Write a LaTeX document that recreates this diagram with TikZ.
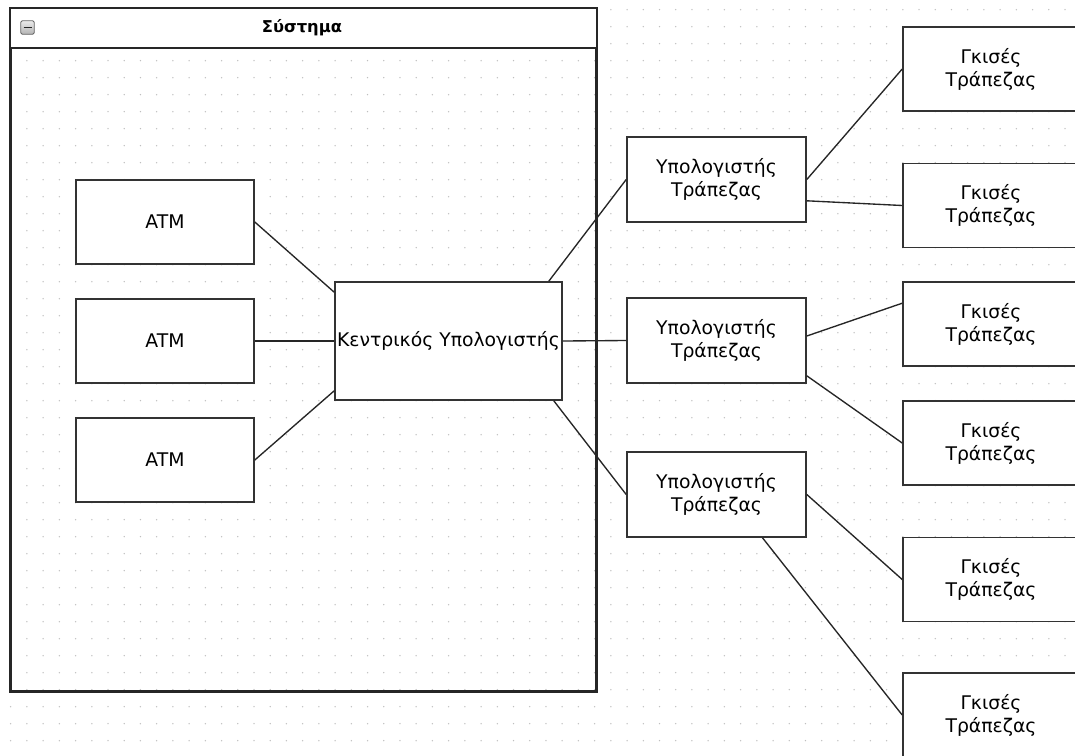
\documentclass[tikz,border=0pt]{standalone}
\usepackage{fontspec}
\setmainfont{DejaVu Sans}
\usetikzlibrary{calc}

\tikzset{
  box/.style={draw=black!80, line width=1.6pt, fill=white, inner sep=0pt,
              minimum width=#1, minimum height=84pt, align=center,
              font=\fontsize{18.8}{23}\selectfont},
  box/.default=178pt,
  link/.style={draw=black!85, line width=1.35pt},
  gridpt/.style={fill=black!25},
}

\begin{document}
\begin{tikzpicture}[x=1pt, y=-1pt]
  \useasboundingbox[fill=white] (0,0) rectangle (1075,755);

  % dotted design grid
  \foreach \i in {0,...,66} {
    \foreach \j in {0,...,44} {
      \fill[gridpt] ({10.7+16.22*\i},{9.7+17*\j}) circle (0.75pt);
    }
  }

  % system container with title bar
  \node[draw=black!85, line width=2pt, inner sep=0pt,
        minimum width=585pt, minimum height=682pt, anchor=north west]
        (sys) at (10,8) {};
  \fill[white] ($(sys.north west)+(1,1)$) rectangle ($(sys.north east)+(-1,40)$);
  \draw[black!85, line width=2pt] (sys.north west) rectangle (sys.south east);
  \draw[black!85, line width=1.6pt] ($(sys.north west)+(0,40)$) -- ($(sys.north east)+(0,40)$);
  \node[font=\bfseries\fontsize{16.3}{19}\selectfont] (title) at (302,28) {Σύστημα};
  \node[draw=black!60, top color=black!8, bottom color=black!30, rounded corners=1.5pt,
        line width=0.9pt, minimum size=13.5pt, inner sep=0pt] (collapse) at (27.5,27.5) {};
  \draw[black!85, line width=1.8pt] ($(collapse.center)+(-4,0)$) -- ($(collapse.center)+(4,0)$);

  % ATMs and central computer
  \node[box] (atm1) at (165,222) {ATM};
  \node[box] (atm2) at (165,341) {ATM};
  \node[box] (atm3) at (165,460) {ATM};
  \node[box=227pt, minimum height=118pt] (central) at (448.5,341) {Κεντρικός Υπολογιστής};

  % bank computers
  \node[box=179pt, minimum height=85pt] (bc1) at (716.5,179.5) {Υπολογιστής\\Τράπεζας};
  \node[box=179pt, minimum height=85pt] (bc2) at (716.5,340.5) {Υπολογιστής\\Τράπεζας};
  \node[box=179pt, minimum height=85pt] (bc3) at (716.5,494.5) {Υπολογιστής\\Τράπεζας};

  % tellers
  \node[box=176pt] (g1) at (991,69)    {Γκισές\\Τράπεζας};
  \node[box=176pt] (g2) at (991,205.5) {Γκισές\\Τράπεζας};
  \node[box=176pt] (g3) at (991,324)   {Γκισές\\Τράπεζας};
  \node[box=176pt] (g4) at (991,443)   {Γκισές\\Τράπεζας};
  \node[box=176pt] (g5) at (991,579.5) {Γκισές\\Τράπεζας};
  \node[box=176pt] (g6) at (991,715)   {Γκισές\\Τράπεζας};

  % connections
  \draw[link] (atm1.east) -- ($(central.north west)+(0,11)$);
  \draw[link] (atm2.east) -- (central.west);
  \draw[link] (atm3.east) -- ($(central.south west)+(0,-10)$);

  \draw[link] ($(central.north east)+(-14,0)$) -- (bc1.west);
  \draw[link] (central.east) -- (bc2.west);
  \draw[link] ($(central.south east)+(-9,0)$) -- (bc3.west);

  \draw[link] (bc1.east) -- (g1.west);
  \draw[link] ($(bc1.south east)+(0,-22)$) -- (g2.west);
  \draw[link] ($(bc2.east)+(0,-4.5)$) -- ($(g3.north west)+(0,22)$);
  \draw[link] ($(bc2.south east)+(0,-8)$) -- (g4.west);
  \draw[link] (bc3.east) -- (g5.west);
  \draw[link] ($(bc3.south)+(46,0)$) -- (g6.west);
\end{tikzpicture}
\end{document}
